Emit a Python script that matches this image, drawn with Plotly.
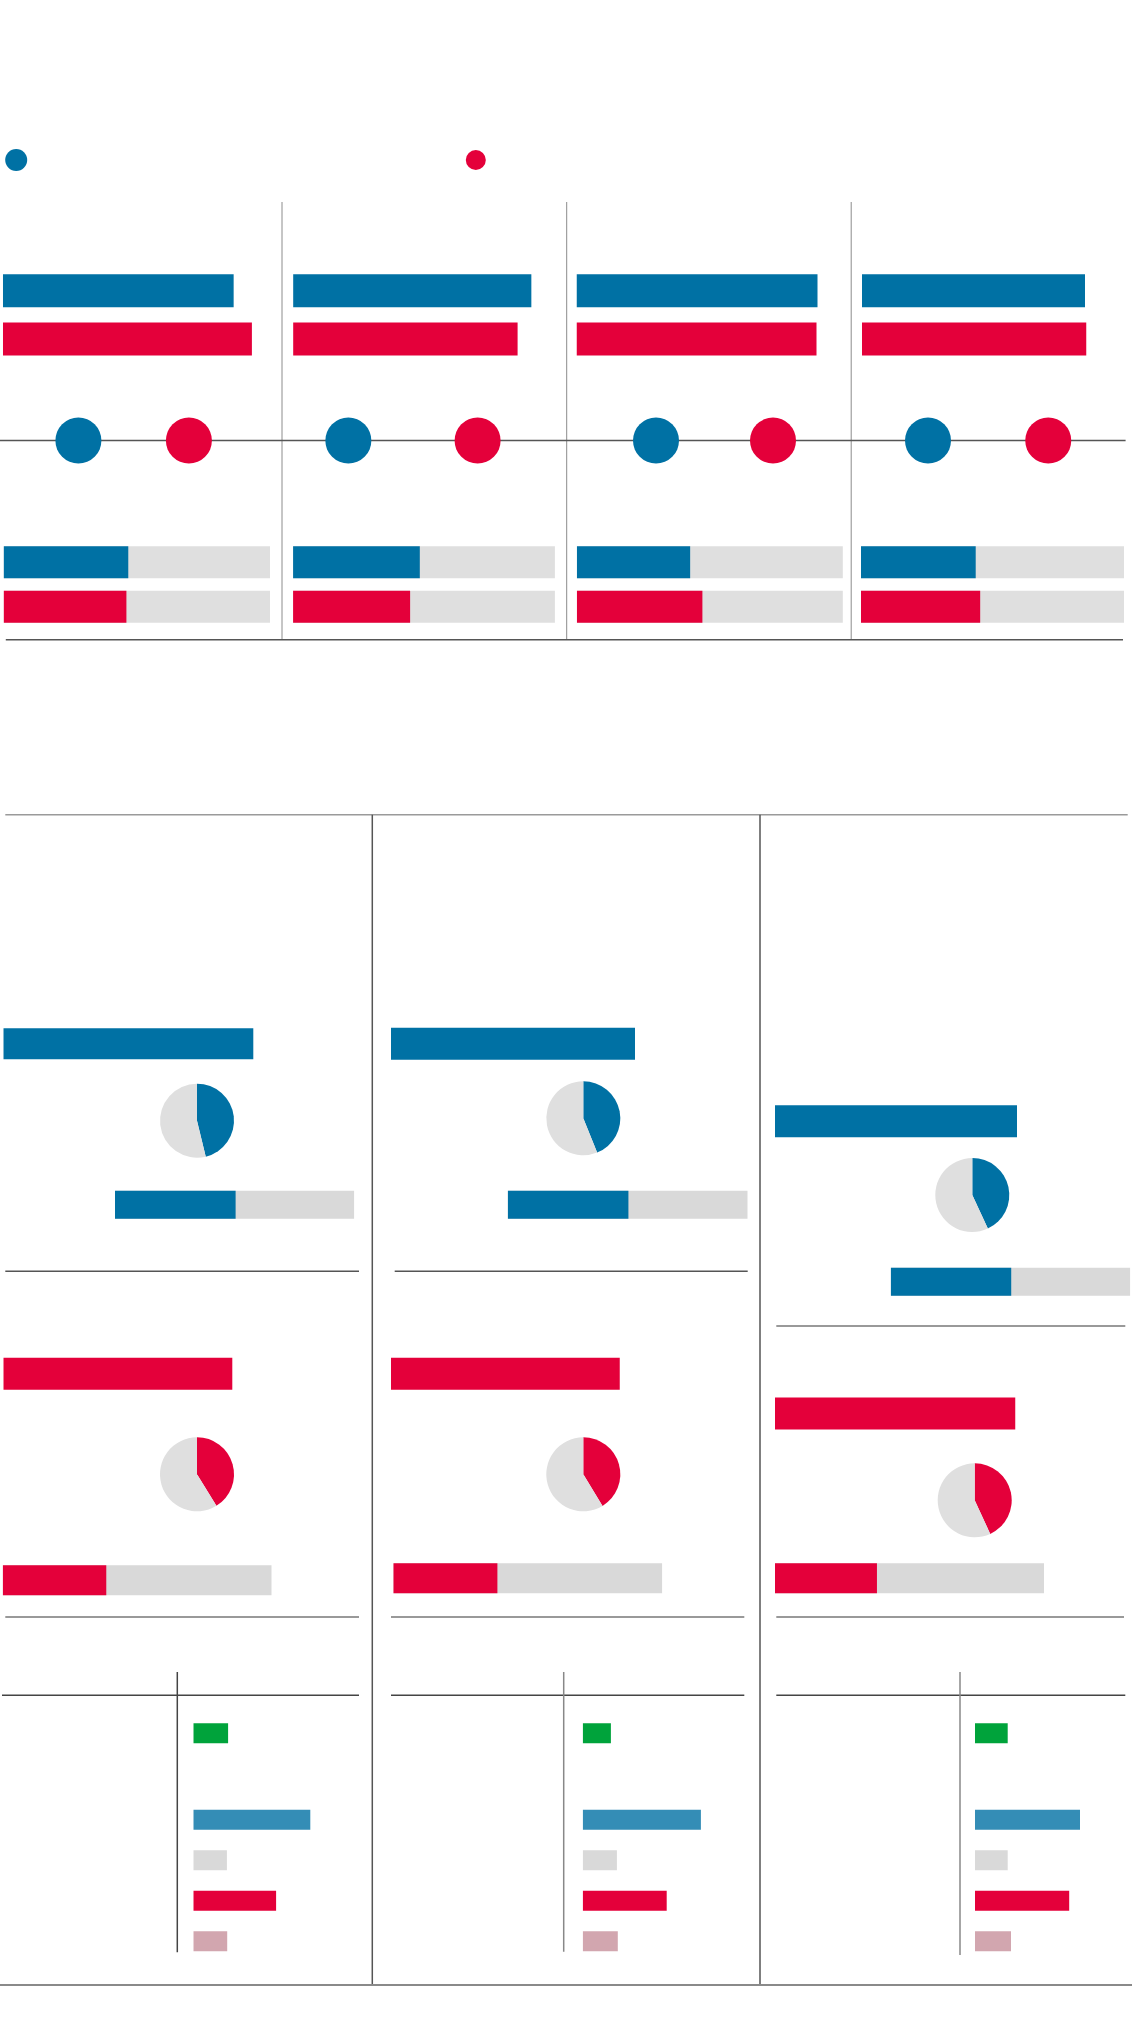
import plotly.graph_objects as go

W, H = 1132, 2036

# ---------------- data ----------------
SERIES = ["Group A", "Group B"]

# top section: four panels
top_bar_a = [92.3, 95.3, 96.4, 89.2]
top_bar_b = [99.6, 89.8, 96.0, 89.7]
dot_a = [30.2, 22.1, 31.8, 26.4]
dot_b = [74.4, 73.8, 78.6, 74.5]
share_a = [46.8, 48.4, 42.6, 43.6]
share_b = [46.1, 44.7, 47.2, 45.3]

# middle section: three columns
col_bar_a = [101.0, 97.6, 96.8]
col_bar_b = [91.6, 91.5, 96.1]
pie_a = [46.2, 43.9, 43.1]
pie_b = [41.2, 41.3, 43.1]
pct_a = [50.4, 50.3, 50.3]
pct_b = [38.5, 38.7, 37.9]

# bottom section: three small bar charts
HEAD = ["Total"]
ROWS = ["Row 1", "Row 2", "Row 3", "Row 4"]
head_vals = [11.6, 9.4, 10.9]
row_vals = [
    [39.0, 11.2, 27.6, 11.3],
    [39.4, 11.4, 28.0, 11.7],
    [35.0, 10.9, 31.4, 12.0],
]

# ---------------- styles ----------------
BLUE = "#0071A4"
RED = "#E4003A"
GREY = "#DFDFDF"
GREY2 = "#D9D9D9"
GREEN = "#00A33B"
LBLUE = "#348DB6"
PINK = "#D2A6AF"
ROW_COLORS = [LBLUE, GREY2, RED, PINK]

fig = go.Figure()
layout = {}
count = [0]


def add_axes(x0, x1, y0, y1, xrange, yrange, ycats=None, xcats=None):
    count[0] += 1
    n = count[0]
    s = "" if n == 1 else str(n)
    common = dict(visible=False, fixedrange=True, showgrid=False, zeroline=False)
    xa = dict(domain=[x0 / W, x1 / W], range=xrange, anchor="y" + s, **common)
    ya = dict(domain=[1 - y1 / H, 1 - y0 / H], range=yrange, anchor="x" + s, **common)
    if ycats:
        ya.update(type="category", categoryarray=ycats, categoryorder="array")
    if xcats:
        xa.update(type="category", categoryarray=xcats, categoryorder="array")
    layout["xaxis" + s] = xa
    layout["yaxis" + s] = ya
    return "x" + s, "y" + s


def hbar(x, y, colors, width, xr, yr):
    fig.add_trace(go.Bar(x=x, y=y, orientation="h", width=width,
                         marker=dict(color=colors, line=dict(width=0)),
                         xaxis=xr, yaxis=yr, hoverinfo="skip", showlegend=False))


# legend key dots
xr, yr = add_axes(16.2, 475.8, 130, 190, [0, 1], [-1, 1], xcats=SERIES)
fig.add_trace(go.Scatter(x=SERIES, y=[0, 0], mode="markers",
                         marker=dict(size=[22, 20], color=[BLUE, RED], opacity=1,
                                     line=dict(width=0)),
                         xaxis=xr, yaxis=yr, cliponaxis=False, hoverinfo="skip", showlegend=False))

# ---------------- top section ----------------
panel_x0 = [2.9, 293.1, 576.5, 862.0]
share_bg = [(3.6, 270.0), (293.1, 554.9), (576.8, 842.9), (861.0, 1124.1)]
for i in range(4):
    x0 = panel_x0[i]
    xr, yr = add_axes(x0, x0 + 250, 266.7, 363.1, [0, 100], [1.5, -0.5], ycats=SERIES)
    hbar([top_bar_a[i], top_bar_b[i]], SERIES, [BLUE, RED], 33 / 48.2, xr, yr)

    xr, yr = add_axes(x0, x0 + 250, 410.6, 470.6, [0, 100], [-1, 1])
    fig.add_trace(go.Scatter(x=[dot_a[i], dot_b[i]], y=[0, 0], mode="markers",
                             marker=dict(size=46, color=[BLUE, RED], opacity=1,
                                         line=dict(width=0)),
                             xaxis=xr, yaxis=yr, cliponaxis=False, hoverinfo="skip",
                             showlegend=False))

    b0, b1 = share_bg[i]
    xr, yr = add_axes(b0, b1, 540.1, 628.9, [0, 100], [1.5, -0.5], ycats=SERIES)
    hbar([100, 100], SERIES, [GREY, GREY], 32 / 44.4, xr, yr)
    hbar([share_a[i], share_b[i]], SERIES, [BLUE, RED], 32 / 44.4, xr, yr)

# ---------------- middle section ----------------
mid_x0 = [3.3, 391.0, 775.0]
mid = {
    "a": dict(bar=col_bar_a, pie=pie_a, pct=pct_a, color=BLUE,
              bar_y=[1043.8, 1043.7, 1121.2], bar_h=[31, 32, 32],
              pie_c=[(197.0, 1120.7), (583.3, 1118.3), (972.3, 1195.0)],
              pct_bg=[(115.0, 354.3, 1204.7), (507.7, 747.7, 1204.7), (890.7, 1130.3, 1281.7)],
              pct_h=28),
    "b": dict(bar=col_bar_b, pie=pie_b, pct=pct_b, color=RED,
              bar_y=[1373.7, 1373.7, 1413.5], bar_h=[32, 32, 32],
              pie_c=[(197.0, 1474.3), (583.3, 1474.3), (974.7, 1500.3)],
              pct_bg=[(2.7, 271.7, 1580.2), (393.3, 662.3, 1578.3), (775.0, 1044.0, 1578.3)],
              pct_h=30),
}
R = 37
for key, g in mid.items():
    name = [SERIES[0] if key == "a" else SERIES[1]]
    for c in range(3):
        x0 = mid_x0[c]
        cy = g["bar_y"][c]
        xr, yr = add_axes(x0, x0 + 250, cy - 20, cy + 20, [0, 100], [0.5, -0.5], ycats=name)
        hbar([g["bar"][c]], name, [g["color"]], g["bar_h"][c] / 40, xr, yr)

        px, py = g["pie_c"][c]
        fig.add_trace(go.Pie(values=[g["pie"][c], 100 - g["pie"][c]],
                             marker=dict(colors=[g["color"], GREY], line=dict(width=0)),
                             domain=dict(x=[(px - R) / W, (px + R) / W],
                                         y=[1 - (py + R) / H, 1 - (py - R) / H]),
                             direction="clockwise", sort=False, rotation=0,
                             textinfo="none", hoverinfo="skip", showlegend=False))

        b0, b1, by = g["pct_bg"][c]
        xr, yr = add_axes(b0, b1, by - 20, by + 20, [0, 100], [0.5, -0.5], ycats=name)
        hbar([100], name, [GREY2], g["pct_h"] / 40, xr, yr)
        hbar([g["pct"][c]], name, [g["color"]], g["pct_h"] / 40, xr, yr)

# ---------------- bottom section ----------------
bot_x0 = [193.3, 582.7, 975.0]
SLOT = 40.47
for c in range(3):
    x0 = bot_x0[c]
    xr, yr = add_axes(x0, x0 + 150, 1733.3 - SLOT / 2, 1733.3 + SLOT / 2, [0, 50], [0.5, -0.5], ycats=HEAD)
    hbar([head_vals[c]], HEAD, [GREEN], 20 / SLOT, xr, yr)
    xr, yr = add_axes(x0, x0 + 150, 1819.8 - SLOT / 2, 1941.2 + SLOT / 2, [0, 50], [3.5, -0.5], ycats=ROWS)
    hbar(row_vals[c], ROWS, ROW_COLORS, 20 / SLOT, xr, yr)

# ---------------- rules / dividers ----------------
shapes = []


def hline(y, x0, x1, color, w):
    shapes.append(dict(type="line", xref="paper", yref="paper", x0=x0 / W, x1=x1 / W,
                       y0=1 - y / H, y1=1 - y / H, line=dict(color=color, width=w), layer="below"))


def vline(x, y0, y1, color, w):
    shapes.append(dict(type="line", xref="paper", yref="paper", x0=x / W, x1=x / W,
                       y0=1 - y0 / H, y1=1 - y1 / H, line=dict(color=color, width=w), layer="below"))


for x in [282.0, 566.7, 851.2]:
    vline(x, 202, 640, "#8C8C8C", 1)
hline(440.6, 0, 1125.6, "#555555", 1.5)
hline(639.7, 5.8, 1123, "#555555", 1.5)

hline(814.7, 5.3, 1127.7, "#9A9A9A", 1.5)
for x in [372.3, 760.0]:
    vline(x, 814.7, 1985, "#555555", 1.5)
hline(1271.3, 5.3, 359, "#555555", 1.5)
hline(1617.0, 5.3, 359, "#777777", 1.5)
hline(1271.3, 394.7, 747.7, "#555555", 1.5)
hline(1617.0, 391, 744.3, "#777777", 1.5)
hline(1326.0, 776.3, 1125.3, "#777777", 1.5)
hline(1617.0, 776.3, 1124, "#777777", 1.5)

for (a, b) in [(2, 359), (391, 744.3), (776.3, 1125.3)]:
    hline(1695.3, a, b, "#444444", 1.5)
vline(177.3, 1672, 1952.3, "#444444", 1.5)
vline(563.7, 1672, 1951.7, "#888888", 1.5)
vline(960.0, 1672, 1955, "#888888", 1.5)
hline(1985.0, 0, 1132, "#8A8A8A", 2)

fig.update_layout(
    width=W, height=H, autosize=False,
    margin=dict(l=0, r=0, t=0, b=0),
    paper_bgcolor="white", plot_bgcolor="rgba(0,0,0,0)",
    barmode="overlay", showlegend=False,
    shapes=shapes,
    **layout,
)

fig.write_html("out.html", config={"displayModeBar": False, "staticPlot": True})
